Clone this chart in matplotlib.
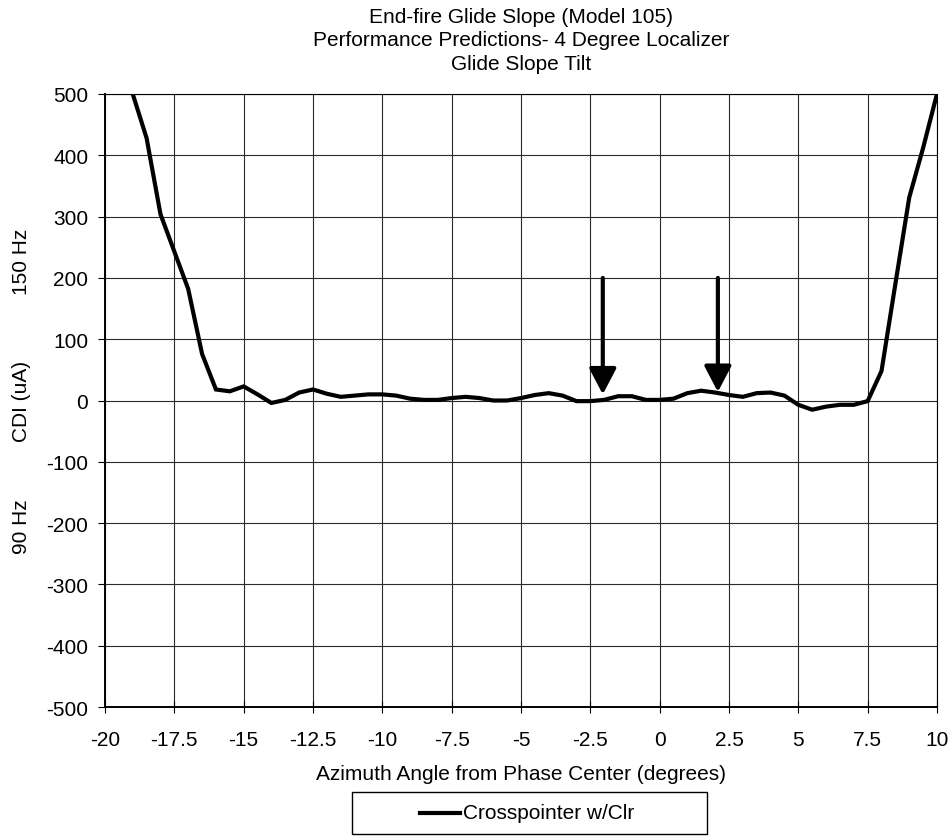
import matplotlib.pyplot as plt
from matplotlib.patches import Rectangle, ArrowStyle
from matplotlib.lines import Line2D
import matplotlib.transforms as mtransforms

plt.rcParams['font.family'] = ['Liberation Sans', 'DejaVu Sans']
plt.rcParams['font.size'] = 15
plt.rcParams['axes.unicode_minus'] = False

# CDI vs azimuth, sampled every half degree
azimuth = [-19, -18.5, -18, -17.5, -17, -16.5, -16, -15.5, -15, -14.5,
           -14, -13.5, -13, -12.5, -12, -11.5, -11, -10.5, -10, -9.5,
           -9, -8.5, -8, -7.5, -7, -6.5, -6, -5.5, -5, -4.5,
           -4, -3.5, -3, -2.5, -2, -1.5, -1, -0.5, 0, 0.5,
           1, 1.5, 2, 2.5, 3, 3.5, 4, 4.5, 5, 5.5,
           6, 6.5, 7, 7.5, 8, 8.5, 9, 9.5, 10]
cdi = [500, 428, 304, 243, 182, 76, 18, 15, 23, 10,
       -4, 1, 13, 18, 11, 6, 8, 10, 10, 8,
       3, 1, 1, 4, 6, 4, 0, 0, 4, 9,
       12, 8, -1, -1, 1, 7, 7, 1, 1, 3,
       12, 16, 13, 9, 6, 12, 13, 8, -7, -15,
       -10, -7, -7, -1, 48, 190, 331, 412, 500]

# course width markers
arrow_x = [-2.05, 2.1]
arrow_top = [200, 200]
arrow_tip = [10, 14]

x_ticks = [-20, -17.5, -15, -12.5, -10, -7.5, -5, -2.5, 0, 2.5, 5, 7.5, 10]
x_ticklabels = ['-20', '-17.5', '-15', '-12.5', '-10', '-7.5', '-5', '-2.5',
                '0', '2.5', '5', '7.5', '10']
y_ticks = list(range(-500, 501, 100))

title_lines = ['End-fire Glide Slope (Model 105)',
               'Performance Predictions- 4 Degree Localizer',
               'Glide Slope Tilt']

fig = plt.figure(figsize=(9.52, 8.37), dpi=100)
ax = fig.add_axes([0.1103, 0.1541, 0.8739, 0.7324])

ax.plot(azimuth, cdi, color='black', lw=3, solid_joinstyle='miter',
        clip_on=True, zorder=3)

for xa, yt, yb in zip(arrow_x, arrow_top, arrow_tip):
    ax.annotate('', xy=(xa, yb), xytext=(xa, yt),
                arrowprops=dict(arrowstyle=ArrowStyle('-|>', head_length=1.05, head_width=0.55),
                                mutation_scale=15, lw=3, color='black',
                                shrinkA=0, shrinkB=0),
                zorder=4)

ax.set_xlim(-20, 10)
ax.set_ylim(-500, 500)
ax.set_xticks(x_ticks)
ax.set_xticklabels(x_ticklabels)
ax.set_yticks(y_ticks)
ax.grid(True, color='#2a2a2a', lw=0.8)
ax.set_axisbelow(True)

ax.tick_params(axis='x', direction='inout', length=9, width=0.8, pad=12)
ax.tick_params(axis='y', direction='out', length=5, width=0.8, pad=7)
for side in ['left', 'bottom']:
    ax.spines[side].set_linewidth(1.4)
for side in ['top', 'right']:
    ax.spines[side].set_linewidth(0.8)

ax.set_title('\n'.join(title_lines), fontsize=15, linespacing=1.3, pad=18)
ax.set_xlabel('Azimuth Angle from Phase Center (degrees)', labelpad=11)
ax.set_ylabel('CDI (uA)', va='center')
ax.yaxis.set_label_coords(-0.1, 0.5)

# side notes on which tone dominates
trans = mtransforms.blended_transform_factory(ax.transAxes, ax.transData)
ax.text(-0.1, 228, '150 Hz', rotation=90, ha='center', va='center', transform=trans)
ax.text(-0.1, -205, '90 Hz', rotation=90, ha='center', va='center', transform=trans)

# legend box
fig.add_artist(Rectangle((0.3697, 0.0024), 0.3729, 0.0502, transform=fig.transFigure,
                         facecolor='white', edgecolor='black', lw=1))
fig.add_artist(Line2D([0.4412, 0.4832], [0.0275, 0.0275], transform=fig.transFigure,
                      color='black', lw=3))
fig.text(0.4863, 0.0275, 'Crosspointer w/Clr', ha='left', va='center')

fig.savefig('out.png', dpi=100)
